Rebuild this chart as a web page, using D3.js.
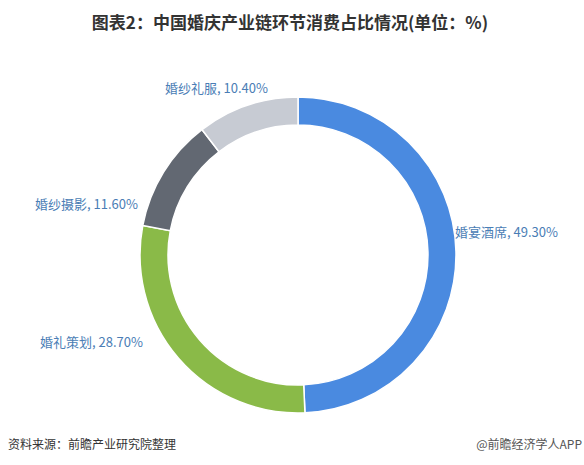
<!DOCTYPE html>
<html><head><meta charset="utf-8">
<script src="https://cdn.jsdelivr.net/npm/d3@7"></script>
<style>body{margin:0;background:#fff;font-family:"Noto Sans CJK SC",sans-serif;}</style>
</head><body><div class="chart"></div>
<script>
// data
var categories = ["婚宴酒席", "婚礼策划", "婚纱摄影", "婚纱礼服"];
var values = [49.3, 28.7, 11.6, 10.4];
var colors = ["#4a8ae0", "#8aba48", "#626872", "#c7cbd3"];
var labelPos = [[455, 237, "start"], [40, 347, "start"], [35, 209, "start"], [165, 93, "start"]];

var svgWidth = 584, svgHeight = 465;
var svg = d3.select(".chart").append("svg")
    .attr("width", svgWidth).attr("height", svgHeight);

svg.append("text").attr("x", 290).attr("y", 29).attr("text-anchor", "middle")
    .attr("font-size", 17).attr("font-weight", "bold").attr("fill", "#333")
    .text("图表2：中国婚庆产业链环节消费占比情况(单位：%)");

var pie = d3.pie().sort(null).value(d => d);
var arc = d3.arc().innerRadius(130).outerRadius(158);

var g = svg.append("g").attr("transform", "translate(298,255)");
g.selectAll("path").data(pie(values)).enter().append("path")
    .attr("d", arc)
    .attr("fill", (d, i) => colors[i])
    .attr("stroke", "#fff").attr("stroke-width", 1.5);

svg.selectAll(".lbl").data(categories).enter().append("text")
    .attr("class", "lbl")
    .attr("x", (d, i) => labelPos[i][0])
    .attr("y", (d, i) => labelPos[i][1])
    .attr("text-anchor", (d, i) => labelPos[i][2])
    .attr("font-size", 13).attr("fill", "#4a7db5")
    .text((d, i) => d + ", " + values[i].toFixed(2) + "%");

svg.append("text").attr("x", 8).attr("y", 449).attr("font-size", 12).attr("fill", "#333")
    .text("资料来源：前瞻产业研究院整理");
svg.append("text").attr("x", 582).attr("y", 449).attr("text-anchor", "end")
    .attr("font-size", 12).attr("fill", "#555").text("@前瞻经济学人APP");
</script></body></html>
